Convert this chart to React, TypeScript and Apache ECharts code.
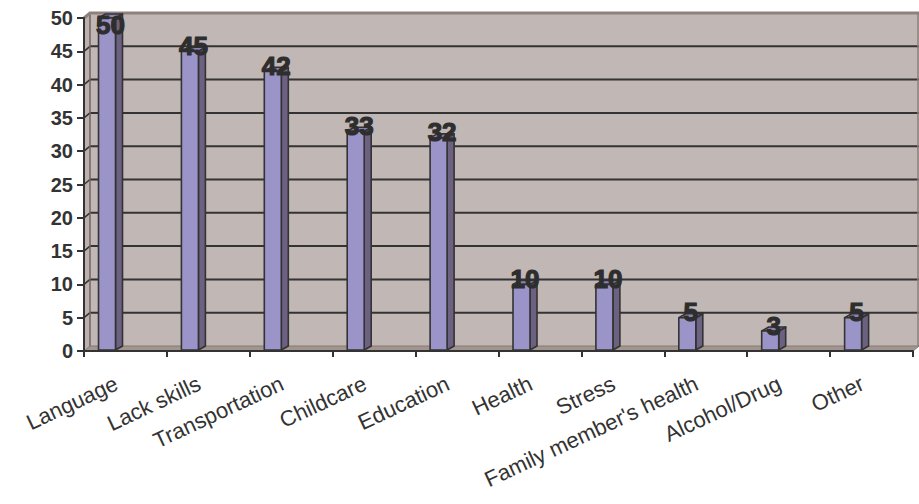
import React, { useEffect, useRef } from "react";
import * as echarts from "echarts";

// Reported barriers and how many respondents named each one
const categories = [
  "Language",
  "Lack skills",
  "Transportation",
  "Childcare",
  "Education",
  "Health",
  "Stress",
  "Family member's health",
  "Alcohol/Drug",
  "Other",
];
const counts = [50, 45, 42, 33, 32, 10, 10, 5, 3, 5];
const yTicks = [0, 5, 10, 15, 20, 25, 30, 35, 40, 45, 50];

const FONT = "'Liberation Sans', Arial, Helvetica, sans-serif";
const INK = "#333333";
// depth of the walls/floor behind the axes
const WALL_DX = 6;
const WALL_DY = -5;
// depth of each bar
const BAR_DX = 7;
const BAR_DY = -4;

export default function App() {
  const ref = useRef<HTMLDivElement>(null);

  useEffect(() => {
    if (!ref.current) return;
    const chart = echarts.init(ref.current, undefined, { renderer: "svg" });

    const renderWalls = (params: any, api: any) => {
      const cs = params.coordSys;
      const left = cs.x;
      const right = cs.x + cs.width;
      const y0 = api.coord([0, yTicks[0]])[1];
      const yTop = api.coord([0, yTicks[yTicks.length - 1]])[1];
      const children: any[] = [];
      // back wall
      children.push({
        type: "rect",
        shape: { x: left + WALL_DX, y: yTop + WALL_DY, width: right - left + 20, height: y0 - yTop },
        style: { fill: "#c1b7b4" },
      });
      // side wall
      children.push({
        type: "polygon",
        shape: {
          points: [
            [left, yTop],
            [left, y0],
            [left + WALL_DX, y0 + WALL_DY],
            [left + WALL_DX, yTop + WALL_DY],
          ],
        },
        style: { fill: "#bcb1ae" },
      });
      // floor
      children.push({
        type: "polygon",
        shape: {
          points: [
            [left, y0],
            [right, y0],
            [right + WALL_DX, y0 + WALL_DY],
            [left + WALL_DX, y0 + WALL_DY],
          ],
        },
        style: { fill: "#a2948f", stroke: "#857874", lineWidth: 1 },
      });
      // gridlines on back and side walls
      yTicks.slice(1, -1).forEach((v) => {
        const y = api.coord([0, v])[1];
        children.push({
          type: "line",
          shape: { x1: left + WALL_DX, y1: y + WALL_DY, x2: right + 20, y2: y + WALL_DY },
          style: { stroke: INK, lineWidth: 2 },
        });
        children.push({
          type: "line",
          shape: { x1: left, y1: y, x2: left + WALL_DX, y2: y + WALL_DY },
          style: { stroke: INK, lineWidth: 1.5 },
        });
      });
      // wall edges
      children.push({
        type: "line",
        shape: { x1: left + WALL_DX, y1: yTop + WALL_DY, x2: left + WALL_DX, y2: y0 + WALL_DY },
        style: { stroke: "#6f6562", lineWidth: 1.5 },
      });
      children.push({
        type: "polyline",
        shape: {
          points: [
            [left, yTop],
            [left + WALL_DX, yTop + WALL_DY],
            [right + 20, yTop + WALL_DY],
          ],
        },
        style: { stroke: "#8d817e", lineWidth: 3, fill: "none" },
      });
      children.push({
        type: "line",
        shape: { x1: right + WALL_DX - 1, y1: yTop + WALL_DY, x2: right + WALL_DX - 1, y2: y0 + WALL_DY },
        style: { stroke: "#8d817e", lineWidth: 1.5 },
      });
      return { type: "group", children };
    };

    const renderBar = (params: any, api: any) => {
      const i = api.value(0);
      const v = api.value(1);
      const top = api.coord([i, v]);
      const base = api.coord([i, 0]);
      const band = api.size([1, 0])[0];
      const x0 = top[0] - band / 2 + band * 0.175;
      const w = band * 0.205;
      const yT = top[1];
      const yB = base[1] - 1;
      const outline = { stroke: INK, lineWidth: 1.6, lineJoin: "round" };
      const cx = x0 + w / 2;
      // keep the value label inside the plot when the bar reaches the top
      const labelY = Math.max(yT - 5.5, params.coordSys.y + 7);
      return {
        type: "group",
        children: [
          {
            type: "polygon",
            shape: {
              points: [
                [x0 + w, yT],
                [x0 + w + BAR_DX, yT + BAR_DY],
                [x0 + w + BAR_DX, yB + BAR_DY],
                [x0 + w, yB],
              ],
            },
            style: { fill: "#6c6180", ...outline },
          },
          {
            type: "polygon",
            shape: {
              points: [
                [x0, yT],
                [x0 + BAR_DX, yT + BAR_DY],
                [x0 + w + BAR_DX, yT + BAR_DY],
                [x0 + w, yT],
              ],
            },
            style: { fill: "#8b83b6", ...outline },
          },
          {
            type: "rect",
            shape: { x: x0, y: yT, width: w, height: yB - yT },
            style: { fill: "#9b94c9", ...outline },
          },
          {
            type: "text",
            x: cx + 3.5,
            y: labelY,
            style: {
              text: String(v),
              fill: "#2e2e2e",
              fontSize: 26,
              fontWeight: "bold",
              fontFamily: FONT,
              align: "center",
              verticalAlign: "middle",
              stroke: "#2e2e2e",
              lineWidth: 1.2,
            },
          },
        ],
      };
    };

    chart.setOption({
      animation: false,
      backgroundColor: "#ffffff",
      textStyle: { fontFamily: FONT },
      grid: { left: 84, right: 6, top: 18, bottom: 153, containLabel: false },
      xAxis: {
        type: "category",
        data: categories,
        boundaryGap: true,
        z: 10,
        axisLine: { show: true, lineStyle: { color: INK, width: 2 } },
        axisTick: { show: true, length: 6, lineStyle: { color: INK, width: 2 } },
        axisLabel: {
          interval: 0,
          rotate: 25,
          margin: 27,
          padding: [0, 10, 0, 0],
          fontSize: 22,
          color: INK,
          fontFamily: FONT,
        },
        splitLine: { show: false },
      },
      yAxis: {
        type: "value",
        min: 0,
        max: 50,
        interval: 5,
        z: 10,
        axisLine: { show: true, lineStyle: { color: INK, width: 2 } },
        axisTick: { show: true, length: 7, lineStyle: { color: INK, width: 2 } },
        axisLabel: {
          margin: 11,
          fontSize: 20,
          fontWeight: "bold",
          color: INK,
          fontFamily: FONT,
        },
        splitLine: { show: false },
      },
      series: [
        {
          type: "custom",
          name: "walls",
          silent: true,
          clip: false,
          z: 0,
          renderItem: renderWalls,
          data: [[0, 0]],
        },
        {
          type: "custom",
          name: "Respondents",
          clip: false,
          z: 2,
          renderItem: renderBar,
          data: counts.map((v, i) => [i, v]),
        },
      ],
    });

    return () => chart.dispose();
  }, []);

  return (
    <div
      ref={ref}
      style={{ position: "fixed", left: 0, top: 0, width: 919, height: 504 }}
    />
  );
}
